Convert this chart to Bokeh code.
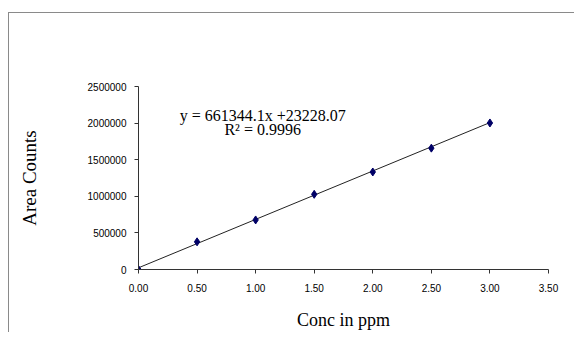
import numpy as np
from bokeh.plotting import figure
from bokeh.models import Label, NumeralTickFormatter, FixedTicker, Range1d, ColumnDataSource
from bokeh.embed import file_html
from bokeh.resources import INLINE

# data
conc_ppm = [0.0, 0.5, 1.0, 1.5, 2.0, 2.5, 3.0]
area_counts = [0, 378000, 677000, 1027000, 1332000, 1658000, 2002000]
slope = 661344.1
intercept = 23228.07
eq_line1 = "y = 661344.1x +23228.07"
eq_line2 = "R² = 0.9996"
x_ticks = [0.0, 0.5, 1.0, 1.5, 2.0, 2.5, 3.0, 3.5]
y_ticks = [0, 500000, 1000000, 1500000, 2000000, 2500000]

SERIF = "Liberation Serif"
SANS = "Liberation Sans"

p = figure(width=566, height=320, output_backend="svg", toolbar_location=None,
           x_range=Range1d(0, 3.5), y_range=Range1d(0, 2500000),
           min_border_left=129, min_border_right=27, min_border_top=73, min_border_bottom=64)
p.styles = {"border-top": "1px solid #8a8a8a", "border-left": "1px solid #8a8a8a",
            "margin-top": "12px", "margin-left": "8px"}
p.outline_line_color = None
p.xgrid.visible = False
p.ygrid.visible = False

# trendline
fit_x = np.array([min(conc_ppm), max(conc_ppm)])
fit_y = slope * fit_x + intercept
p.line(fit_x, fit_y, line_color="#222222", line_width=1)

src = ColumnDataSource(dict(x=conc_ppm, y=area_counts))
p.scatter("x", "y", source=src, marker="diamond", size=8, fill_color="#000066", line_color="#000066")

for ax in (p.xaxis[0], p.yaxis[0]):
    ax.axis_line_color = "#333333"
    ax.major_tick_line_color = "#333333"
    ax.major_tick_in = 0
    ax.major_tick_out = 4
    ax.minor_tick_line_color = None
    ax.major_label_text_font = SANS
    ax.major_label_text_font_size = "10px"
    ax.major_label_text_color = "#000000"
    ax.axis_label_text_font = SERIF
    ax.axis_label_text_font_style = "normal"
    ax.axis_label_text_color = "#000000"

p.xaxis.axis_label_text_font_size = "18px"
p.yaxis.axis_label_text_font_size = "19px"
p.xaxis.ticker = FixedTicker(ticks=x_ticks)
p.yaxis.ticker = FixedTicker(ticks=y_ticks)
p.xaxis.formatter = NumeralTickFormatter(format="0.00")
p.yaxis.formatter = NumeralTickFormatter(format="0")
p.xaxis.axis_label = "Conc in ppm"
p.yaxis.axis_label = "Area Counts"
p.xaxis.major_label_standoff = 10
p.yaxis.major_label_standoff = 8
p.xaxis.axis_label_standoff = 15
p.yaxis.axis_label_standoff = 45

p.add_layout(Label(x=1.06, y=2104000, text=eq_line1, text_font=SERIF, text_font_size="16px",
                   text_align="center", text_baseline="middle", text_color="#000000"))
p.add_layout(Label(x=1.06, y=1907000, text=eq_line2, text_font=SERIF, text_font_size="16px",
                   text_align="center", text_baseline="middle", text_color="#000000"))

open("out.html", "w").write(file_html(p, INLINE))
